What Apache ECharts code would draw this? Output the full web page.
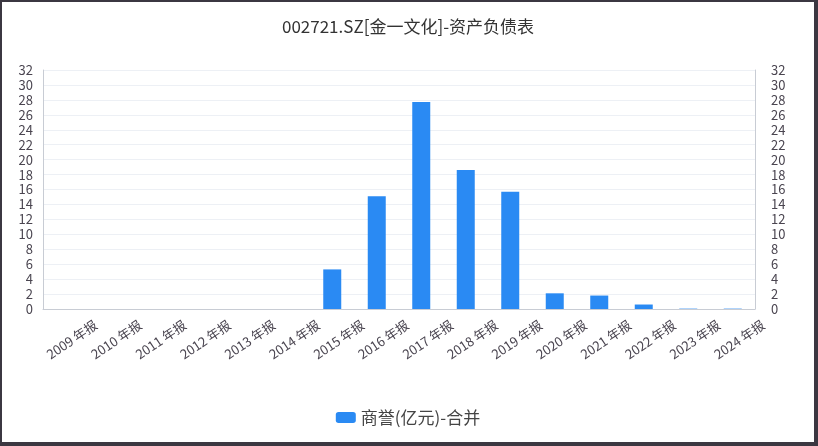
<!DOCTYPE html>
<html>
<head>
<meta charset="utf-8">
<script src="https://cdn.jsdelivr.net/npm/echarts@6/dist/echarts.min.js"></script>
<style>
  html, body { margin: 0; padding: 0; background: #3b3741; width: 818px; height: 446px; overflow: hidden; }
  #main { position: absolute; left: 2px; top: 2px; width: 812px; height: 440px; background: #fff; }
</style>
</head>
<body>
<div id="main"></div>
<script>
const years = ['2009 年报', '2010 年报', '2011 年报', '2012 年报', '2013 年报', '2014 年报', '2015 年报', '2016 年报',
    '2017 年报', '2018 年报', '2019 年报', '2020 年报', '2021 年报', '2022 年报', '2023 年报', '2024 年报']
const goodwill = [0, 0, 0, 0, 0, 0, 5.3, 15.1, 27.7, 18.6, 15.7, 2.1, 1.8, 0.6, 0.05, 0.05]
const seriesName = '商誉(亿元)-合并'
const titleText = '002721.SZ[金一文化]-资产负债表'

const font = 'Noto Sans CJK SC'

const valueAxis = (position, margin) => ({
    type: 'value',
    position: position,
    min: 0,
    max: 32,
    interval: 2,
    axisLine: { show: true, lineStyle: { color: '#c8ccd4' } },
    axisTick: { show: false },
    splitLine: { show: position === 'left', lineStyle: { color: '#edf0f5' } },
    axisLabel: {
        color: '#4a4550',
        fontSize: 13,
        fontFamily: font,
        margin: margin,
    },
})

const chart = echarts.init(document.getElementById('main'))
chart.setOption({
    animation: false,
    title: {
        text: titleText,
        left: 'center',
        top: 11,
        textStyle: {
            color: '#333',
            fontSize: 17,
            fontWeight: 'normal',
            fontFamily: font,
        },
    },
    legend: {
        bottom: 11,
        left: 'center',
        itemWidth: 20,
        itemHeight: 11,
        textStyle: { color: '#444', fontSize: 17, fontFamily: font },
        data: [seriesName],
    },
    grid: {
        left: 41,
        right: 59,
        top: 68,
        bottom: 133,
    },
    xAxis: {
        type: 'category',
        data: years,
        axisLine: { lineStyle: { color: '#c8ccd4' } },
        axisTick: { show: false },
        axisLabel: {
            interval: 0,
            rotate: 34,
            align: 'center',
            verticalAlign: 'middle',
            margin: 35,
            padding: [0, 0, 0, 16],
            color: '#4a4550',
            fontSize: 13,
            fontFamily: font,
        },
    },
    yAxis: [valueAxis('left', 10), valueAxis('right', 16)],
    series: [
        {
            name: seriesName,
            type: 'bar',
            barWidth: 18,
            itemStyle: { color: '#2a8af3' },
            data: goodwill,
        },
    ],
})
</script>
</body>
</html>
